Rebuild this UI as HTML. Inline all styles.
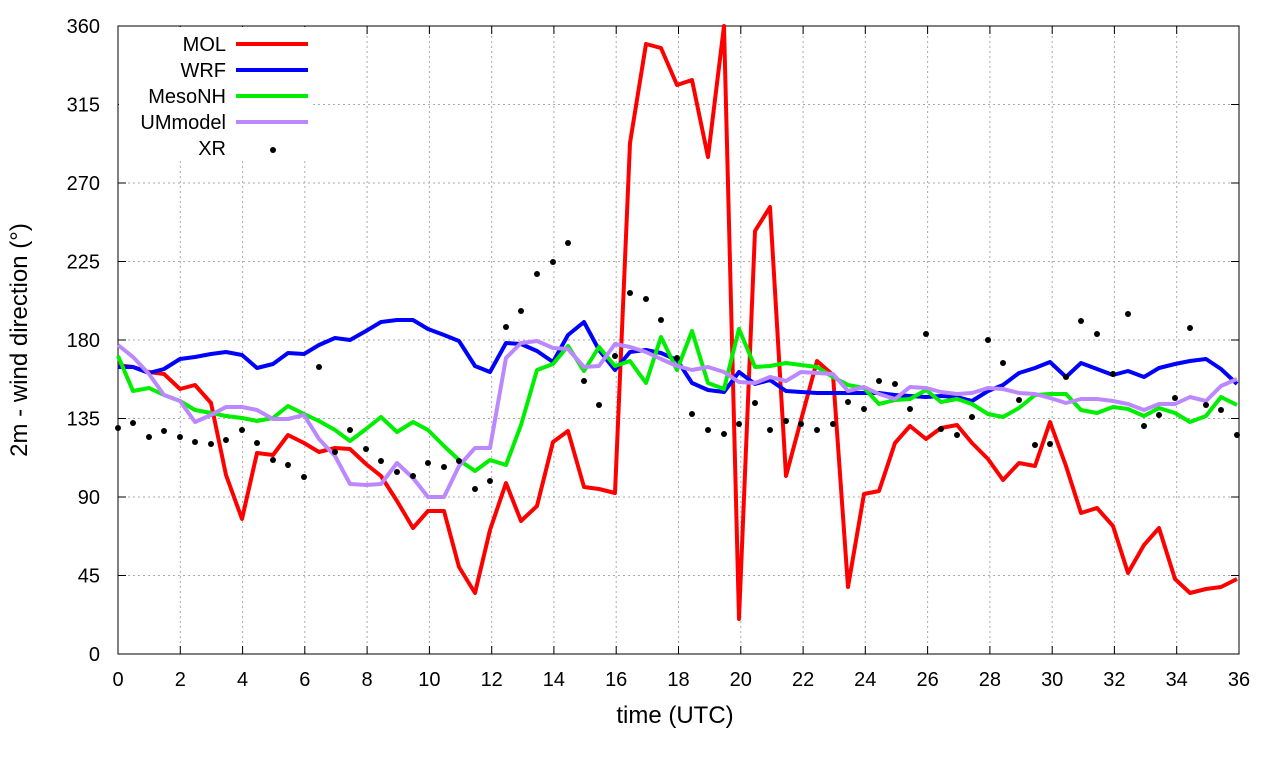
<!DOCTYPE html>
<html><head><style>body{margin:0;background:#fff}</style></head><body>
<svg width="1280" height="760" xmlns="http://www.w3.org/2000/svg" font-family="Liberation Sans, sans-serif">
<rect width="1280" height="760" fill="#fff"/>
<g stroke="#aaa" stroke-width="1" stroke-dasharray="2,3">
<line x1="180.3" y1="26" x2="180.3" y2="654"/><line x1="242.6" y1="26" x2="242.6" y2="654"/><line x1="304.8" y1="26" x2="304.8" y2="654"/><line x1="367.1" y1="26" x2="367.1" y2="654"/><line x1="429.4" y1="26" x2="429.4" y2="654"/><line x1="491.7" y1="26" x2="491.7" y2="654"/><line x1="553.9" y1="26" x2="553.9" y2="654"/><line x1="616.2" y1="26" x2="616.2" y2="654"/><line x1="678.5" y1="26" x2="678.5" y2="654"/><line x1="740.8" y1="26" x2="740.8" y2="654"/><line x1="803.1" y1="26" x2="803.1" y2="654"/><line x1="865.3" y1="26" x2="865.3" y2="654"/><line x1="927.6" y1="26" x2="927.6" y2="654"/><line x1="989.9" y1="26" x2="989.9" y2="654"/><line x1="1052.2" y1="26" x2="1052.2" y2="654"/><line x1="1114.4" y1="26" x2="1114.4" y2="654"/><line x1="1176.7" y1="26" x2="1176.7" y2="654"/>
<line x1="118" y1="575.5" x2="1239" y2="575.5"/><line x1="118" y1="497" x2="1239" y2="497"/><line x1="118" y1="418.5" x2="1239" y2="418.5"/><line x1="118" y1="340" x2="1239" y2="340"/><line x1="118" y1="261.5" x2="1239" y2="261.5"/><line x1="118" y1="183" x2="1239" y2="183"/><line x1="118" y1="104.5" x2="1239" y2="104.5"/>
</g>
<rect x="118" y="26" width="1121" height="628" fill="none" stroke="#000" stroke-width="1"/>
<g stroke="#000" stroke-width="1">
<path d="M180.3,654v-8M242.6,654v-8M304.8,654v-8M367.1,654v-8M429.4,654v-8M491.7,654v-8M553.9,654v-8M616.2,654v-8M678.5,654v-8M740.8,654v-8M803.1,654v-8M865.3,654v-8M927.6,654v-8M989.9,654v-8M1052.2,654v-8M1114.4,654v-8M1176.7,654v-8"/>
<path d="M180.3,26v8M242.6,26v8M304.8,26v8M367.1,26v8M429.4,26v8M491.7,26v8M553.9,26v8M616.2,26v8M678.5,26v8M740.8,26v8M803.1,26v8M865.3,26v8M927.6,26v8M989.9,26v8M1052.2,26v8M1114.4,26v8M1176.7,26v8"/>
<path d="M118,575.5h8M118,497h8M118,418.5h8M118,340h8M118,261.5h8M118,183h8M118,104.5h8M1239,575.5h-8M1239,497h-8M1239,418.5h-8M1239,340h-8M1239,261.5h-8M1239,183h-8M1239,104.5h-8"/>
</g>
<g font-size="20" text-anchor="middle">
<text x="118" y="686">0</text><text x="180.3" y="686">2</text><text x="242.6" y="686">4</text><text x="304.8" y="686">6</text><text x="367.1" y="686">8</text><text x="429.4" y="686">10</text><text x="491.7" y="686">12</text><text x="553.9" y="686">14</text><text x="616.2" y="686">16</text><text x="678.5" y="686">18</text><text x="740.8" y="686">20</text><text x="803.1" y="686">22</text><text x="865.3" y="686">24</text><text x="927.6" y="686">26</text><text x="989.9" y="686">28</text><text x="1052.2" y="686">30</text><text x="1114.4" y="686">32</text><text x="1176.7" y="686">34</text><text x="1239" y="686">36</text>
</g>
<g font-size="20" text-anchor="end">
<text x="100" y="661">0</text><text x="100" y="582.5">45</text><text x="100" y="504">90</text><text x="100" y="425.5">135</text><text x="100" y="347">180</text><text x="100" y="268.5">225</text><text x="100" y="190">270</text><text x="100" y="111.5">315</text><text x="100" y="33">360</text>
</g>
<text x="675" y="723" font-size="24" text-anchor="middle">time (UTC)</text>
<text transform="translate(27,340) rotate(-90)" font-size="24" text-anchor="middle">2m - wind direction (°)</text>
<rect x="119" y="27" width="192" height="133" fill="#fff"/>
<g fill="none" stroke-width="4" stroke-linejoin="round">
<polyline stroke="#ff0000" points="118,365 133,367 149,372 164,374 180,389 195,385 211,403 226,475 242,519 257,453 273,455 288,435 304,443 319,452 335,448 350,449 366,464 381,476 397,501 413,528 428,511 444,511 459,567 475,593 490,530 506,483 521,521 537,506 553,442 568,431 584,487 599,489 615,493 630,143 646,44 661,48 677,85 692,80 708,157 724,26 739,619 755,231 770,207 786,476 801,420 817,361 833,375 848,587 864,494 879,491 895,443 910,426 926,439 941,428 957,425 972,443 988,459 1003,480 1019,463 1035,466 1050,422 1066,466 1081,513 1097,508 1113,526 1128,573 1144,545 1159,528 1175,579 1190,593 1206,589 1221,587 1237,579"/>
<polyline stroke="#0000ff" points="118,367 133,367 149,373 164,369 180,359 195,357 211,354 226,352 242,355 257,368 273,364 288,353 304,354 319,345 335,338 350,340 366,331 381,322 397,320 413,320 428,329 444,335 459,341 475,366 490,372 506,343 521,344 537,351 553,362 568,335 584,322 599,350 615,370 630,352 646,350 661,353 677,360 692,383 708,390 724,392 739,372 755,384 770,380 786,391 801,392 817,393 833,393 848,393 864,393 879,393 895,395 910,396 926,397 941,396 957,397 972,401 988,391 1003,385 1019,373 1035,368 1050,362 1066,377 1081,363 1097,369 1113,375 1128,371 1144,377 1159,368 1175,364 1190,361 1206,359 1221,369 1237,384"/>
<polyline stroke="#00ee00" points="118,356 133,391 149,388 164,395 180,401 195,410 211,413 226,416 242,418 257,421 273,418 288,406 304,414 319,421 335,430 350,441 366,429 381,417 397,432 413,422 428,430 444,446 459,460 475,471 490,460 506,465 521,425 537,370 553,364 568,346 584,371 599,347 615,366 630,361 646,383 661,337 677,370 692,331 708,383 724,389 739,329 755,367 770,366 786,363 801,365 817,367 833,377 848,385 864,388 879,404 895,400 910,399 926,390 941,402 957,399 972,404 988,414 1003,417 1019,408 1035,395 1050,394 1066,394 1081,410 1097,413 1113,407 1128,409 1144,416 1159,408 1175,413 1190,422 1206,416 1221,397 1237,405"/>
<polyline stroke="#bb88ff" points="118,345 133,357 149,374 164,395 180,401 195,422 211,415 226,407 242,407 257,410 273,419 288,419 304,415 319,439 335,456 350,484 366,485 381,484 397,463 413,478 428,497 444,497 459,466 475,448 490,448 506,358 521,343 537,341 553,348 568,349 584,367 599,366 615,344 630,347 646,352 661,359 677,366 692,370 708,367 724,372 739,382 755,383 770,377 786,381 801,372 817,373 833,374 848,391 864,387 879,394 895,399 910,387 926,388 941,392 957,394 972,393 988,388 1003,389 1019,393 1035,394 1050,398 1066,403 1081,399 1097,399 1113,401 1128,404 1144,410 1159,404 1175,404 1190,397 1206,401 1221,386 1237,379"/>
<line x1="236" y1="44" x2="308" y2="44" stroke="#ff0000"/>
<line x1="236" y1="70" x2="308" y2="70" stroke="#0000ff"/>
<line x1="236" y1="96" x2="308" y2="96" stroke="#00ee00"/>
<line x1="236" y1="122" x2="308" y2="122" stroke="#bb88ff"/>
</g>
<g fill="#000">
<circle cx="118" cy="428" r="3"/><circle cx="133" cy="423" r="3"/><circle cx="149" cy="437" r="3"/><circle cx="164" cy="431" r="3"/><circle cx="180" cy="437" r="3"/><circle cx="195" cy="442" r="3"/><circle cx="211" cy="444" r="3"/><circle cx="226" cy="440" r="3"/><circle cx="242" cy="430" r="3"/><circle cx="257" cy="443" r="3"/><circle cx="273" cy="460" r="3"/><circle cx="288" cy="465" r="3"/><circle cx="304" cy="477" r="3"/><circle cx="319" cy="367" r="3"/><circle cx="335" cy="452" r="3"/><circle cx="350" cy="430" r="3"/><circle cx="366" cy="449" r="3"/><circle cx="381" cy="461" r="3"/><circle cx="397" cy="472" r="3"/><circle cx="413" cy="476" r="3"/><circle cx="428" cy="463" r="3"/><circle cx="444" cy="467" r="3"/><circle cx="459" cy="461" r="3"/><circle cx="475" cy="489" r="3"/><circle cx="490" cy="481" r="3"/><circle cx="506" cy="327" r="3"/><circle cx="521" cy="311" r="3"/><circle cx="537" cy="274" r="3"/><circle cx="553" cy="262" r="3"/><circle cx="568" cy="243" r="3"/><circle cx="584" cy="381" r="3"/><circle cx="599" cy="405" r="3"/><circle cx="615" cy="356" r="3"/><circle cx="630" cy="293" r="3"/><circle cx="646" cy="299" r="3"/><circle cx="661" cy="320" r="3"/><circle cx="677" cy="358" r="3"/><circle cx="692" cy="414" r="3"/><circle cx="708" cy="430" r="3"/><circle cx="724" cy="434" r="3"/><circle cx="739" cy="424" r="3"/><circle cx="755" cy="403" r="3"/><circle cx="770" cy="430" r="3"/><circle cx="786" cy="421" r="3"/><circle cx="801" cy="424" r="3"/><circle cx="817" cy="430" r="3"/><circle cx="833" cy="424" r="3"/><circle cx="848" cy="402" r="3"/><circle cx="864" cy="409" r="3"/><circle cx="879" cy="381" r="3"/><circle cx="895" cy="384" r="3"/><circle cx="910" cy="409" r="3"/><circle cx="926" cy="334" r="3"/><circle cx="941" cy="429" r="3"/><circle cx="957" cy="435" r="3"/><circle cx="972" cy="417" r="3"/><circle cx="988" cy="340" r="3"/><circle cx="1003" cy="363" r="3"/><circle cx="1019" cy="400" r="3"/><circle cx="1035" cy="445" r="3"/><circle cx="1050" cy="444" r="3"/><circle cx="1066" cy="377" r="3"/><circle cx="1081" cy="321" r="3"/><circle cx="1097" cy="334" r="3"/><circle cx="1113" cy="374" r="3"/><circle cx="1128" cy="314" r="3"/><circle cx="1144" cy="426" r="3"/><circle cx="1159" cy="415" r="3"/><circle cx="1175" cy="398" r="3"/><circle cx="1190" cy="328" r="3"/><circle cx="1206" cy="405" r="3"/><circle cx="1221" cy="410" r="3"/><circle cx="1237" cy="435" r="3"/>
<circle cx="273" cy="150" r="3"/>
</g>
<g font-size="20" text-anchor="end">
<text x="226" y="51">MOL</text><text x="226" y="77">WRF</text><text x="226" y="103">MesoNH</text><text x="226" y="129">UMmodel</text><text x="226" y="155">XR</text>
</g>
</svg>
</body></html>
